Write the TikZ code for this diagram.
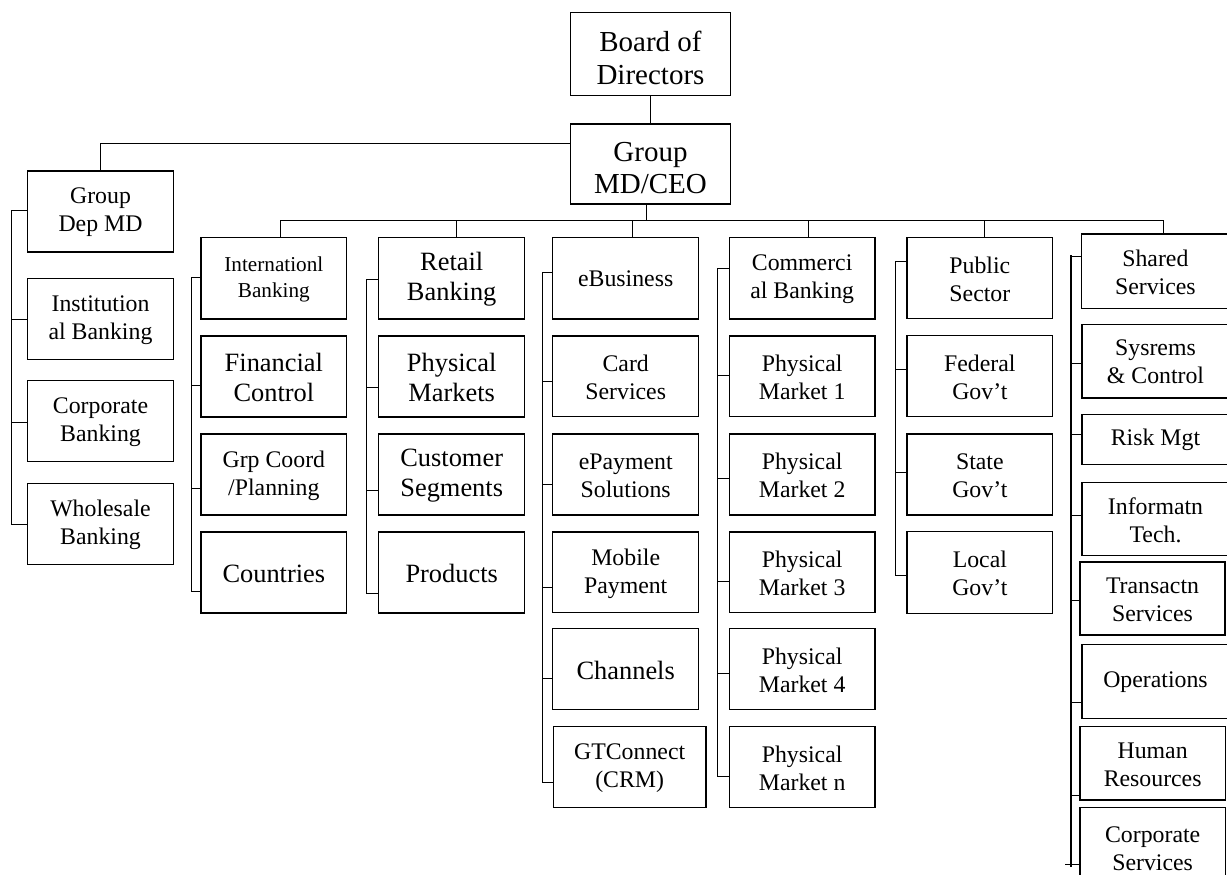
\documentclass[tikz,border=0pt]{standalone}
\usepackage{fontspec}
\setmainfont{Liberation Serif}
% box from its corners: [text style]{name}{x1}{y1}{x2}{y2}{text}
\newcommand\orgbox[7][]{%
  \pgfmathsetmacro\obcx{(#3+#5)/2}%
  \pgfmathsetmacro\obcy{(#4+#6)/2}%
  \pgfmathsetmacro\obw{#5-#3}%
  \pgfmathsetmacro\obh{#6-#4}%
  \node[box,minimum width=\obw pt,minimum height=\obh pt] (#2) at (\obcx,\obcy) {};
  \node[boxtext,#1] (#2-text) at ([yshift=-1pt]#2.center) {#7};}
% side bus of a column: [style]{bus x}{first y}{last y}{node/tick y list}
\newcommand\sidebus[5][]{%
  \draw[link,#1] (#2,#3) -- (#2,#4);
  \foreach \n/\t in {#5} {\draw[link] (#2,\t) -- (\n.west |- #2,\t);}}
\begin{document}
\begin{tikzpicture}[x=1pt,y=-1pt,
  box/.style={draw=black, line width=1.2pt, inner sep=0pt},
  boxtext/.style={inner sep=0pt, align=center,
    font=\fontsize{23.8}{28}\selectfont},
  big/.style={font=\fontsize{26.4}{30.6}\selectfont},
  top/.style={font=\fontsize{29}{32.7}\selectfont, yshift=-3pt},
  small/.style={font=\fontsize{21.2}{26}\selectfont},
  link/.style={draw=black, line width=1pt, line cap=rect}]
\useasboundingbox (0,0) rectangle (1227,875);

% top of the chart
\orgbox[top]{board}{570.5}{12.7}{730.5}{95.7}{Board of\\Directors}
\orgbox[top]{ceo}{570.5}{124}{730.5}{204}{Group\\MD/CEO}

% deputy MD column
\orgbox{dep}{27.7}{171}{173.3}{252}{Group\\Dep MD}
\orgbox{inst}{27.7}{278.7}{173.3}{359.3}{Institution\\al Banking}
\orgbox{corp}{27.7}{380.7}{173.3}{461.3}{Corporate\\Banking}
\orgbox{whole}{27.7}{483.3}{173.3}{564.3}{Wholesale\\Banking}

% international banking column
\orgbox[small]{intl}{201}{237.7}{346.7}{319}{Internationl\\Banking}
\orgbox[big]{fin}{201}{336}{346.7}{417}{Financial\\Control}
\orgbox{grp}{201}{434}{346.7}{515}{Grp Coord\\/Planning}
\orgbox[big]{ctry}{201}{532}{346.7}{613}{Countries}

% retail banking column
\orgbox[big]{retail}{378.7}{237.7}{524.7}{319}{Retail\\Banking}
\orgbox[big]{phys}{378.7}{336}{524.7}{417}{Physical\\Markets}
\orgbox[big]{cust}{378.7}{434}{524.7}{515}{Customer\\Segments}
\orgbox[big]{prod}{378.7}{532}{524.7}{613}{Products}

% eBusiness column
\orgbox{ebiz}{552.7}{237.3}{698.7}{319}{eBusiness}
\orgbox{card}{552.7}{336}{698.7}{416.7}{Card\\Services}
\orgbox{epay}{552.7}{434}{698.7}{515}{ePayment\\Solutions}
\orgbox{mob}{552.7}{532}{698.7}{612.7}{Mobile\\Payment}
\orgbox[big]{chan}{552.7}{628.7}{698.7}{709.5}{Channels}
\orgbox{gt}{553.3}{726.7}{706}{807.7}{GTConnect\\(CRM)}

% commercial banking column
\orgbox{comm}{729.3}{237.3}{875}{319}{Commerci\\al Banking}
\orgbox{pm1}{729.3}{336}{875}{416.7}{Physical\\Market 1}
\orgbox{pm2}{729.3}{434}{875}{515}{Physical\\Market 2}
\orgbox{pm3}{729.3}{532}{875}{612.7}{Physical\\Market 3}
\orgbox{pm4}{729.3}{628.7}{875}{709.5}{Physical\\Market 4}
\orgbox{pmn}{729.3}{726.7}{875}{807.7}{Physical\\Market n}

% public sector column
\orgbox{pub}{907}{237.7}{1052.7}{318.7}{Public\\Sector}
\orgbox{fed}{907}{335.7}{1052.7}{416.7}{Federal\\Gov’t}
\orgbox{state}{907}{434}{1052.7}{515}{State\\Gov’t}
\orgbox{local}{907}{531.7}{1052.7}{613.3}{Local\\Gov’t}

% shared services column
\orgbox{shared}{1081.7}{234}{1229}{308.3}{Shared\\Services}
\orgbox{sys}{1082}{324.3}{1229}{398}{Sysrems\\\& Control}
\orgbox{risk}{1082}{414.3}{1229}{464.3}{Risk Mgt}
\orgbox{info}{1082}{482.7}{1229}{555.5}{Informatn\\Tech.}
\orgbox{trans}{1080}{562}{1225}{635}{Transactn\\Services}
\orgbox{ops}{1082}{644.7}{1229}{718.3}{Operations}
\orgbox{hr}{1080}{726.7}{1225.3}{800}{Human\\Resources}
\orgbox{csvc}{1080}{807.7}{1225.3}{888}{Corporate\\Services}

% board to CEO, CEO to deputy MD
\draw[link] (board.south) -- (ceo.north);
\draw[link] (ceo.west |- 0,143) -- (dep.north |- 0,143) -- (dep.north);

% CEO to the divisional heads
\coordinate (tbw) at (280.7,220.3);
\coordinate (tbe) at (1163,220.3);
\draw[link] (ceo.south -| 646,0) -- (646,220.3);
\draw[link] (tbw) -- (tbe);
\foreach \n/\x in {intl/280.7, retail/456.7, ebiz/632.7, comm/808.7, pub/984.7, shared/1163}
  \draw[link] (\x,220.3) -- (\n.north -| \x,0);

% column buses
\sidebus{11.7}{210.7}{524.3}{dep/210.7, inst/319.3, corp/422.3, whole/524.3}
\sidebus{191}{277.7}{591}{intl/277.7, fin/385.3, grp/488.3, ctry/591}
\sidebus{366.7}{279.3}{593.3}{retail/279.3, phys/387.7, cust/490.7, prod/593.3}
\sidebus{542.7}{272.7}{782.2}{ebiz/272.7, card/381, epay/484, mob/587.7, chan/678.7, gt/782.2}
\sidebus{717.7}{268.3}{776}{comm/268.3, pm1/375.7, pm2/478.3, pm3/581.3, pm4/673.3, pmn/776}
\sidebus{895}{261.7}{575.7}{pub/261.7, fed/369.3, state/472.3, local/575.7}
\sidebus[line width=1.8pt]{1071}{256}{866}{shared/256, sys/363.3, risk/434.3, info/515.5, trans/600, ops/702, hr/795.7}
\draw[link] (1065,864) -- (csvc.west |- 0,864);
\end{tikzpicture}
\end{document}
